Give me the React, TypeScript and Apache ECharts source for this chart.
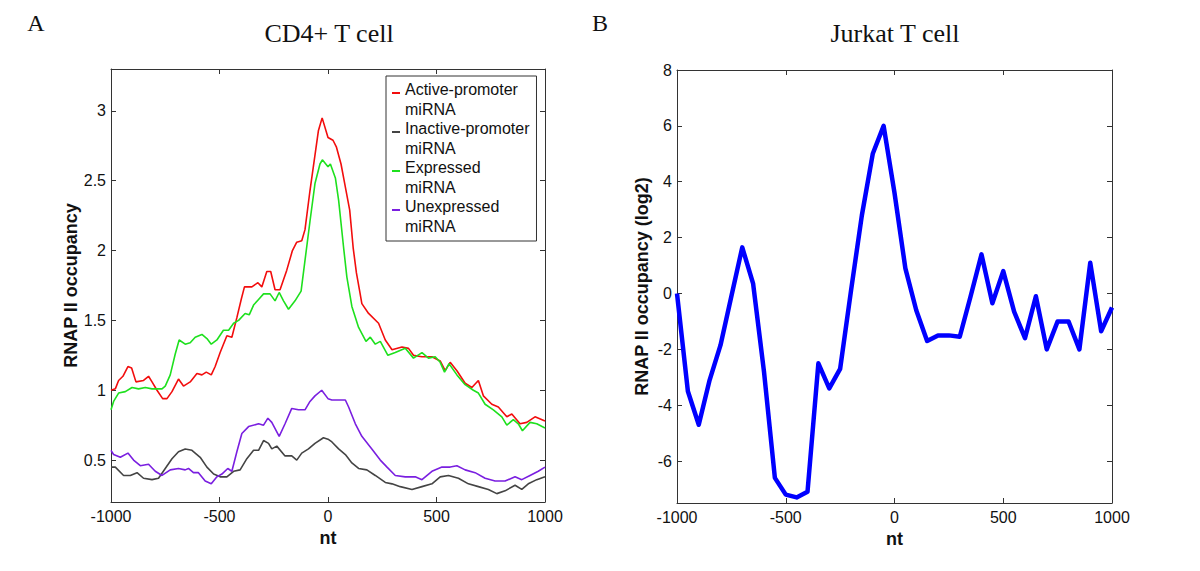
import React, { useEffect, useRef } from "react";
import * as echarts from "echarts";

// ---------- Panel A: CD4+ T cell ----------
const activeNt = [-1000, -980, -965, -945, -922, -905, -885, -850, -827, -811, -788, -762, -742, -719, -689, -666, -635, -604, -581, -561, -538, -520, -497, -466, -443, -420, -400, -385, -351, -323, -305, -282, -264, -244, -221, -190, -164, -144, -121, -106, -83, -44, -27, 0, 23, 39, 60, 77, 100, 116, 131, 146, 156, 187, 233, 264, 295, 341, 371, 394, 433, 479, 517, 540, 563, 594, 632, 663, 693, 716, 755, 785, 824, 847, 885, 916, 954, 1000];
const activeVal = [1.0, 1.01, 1.07, 1.1, 1.17, 1.16, 1.06, 1.07, 1.1, 1.06, 1.0, 0.94, 0.94, 0.99, 1.08, 1.03, 1.06, 1.12, 1.11, 1.13, 1.11, 1.17, 1.27, 1.39, 1.38, 1.52, 1.65, 1.74, 1.74, 1.77, 1.74, 1.85, 1.85, 1.72, 1.72, 1.86, 2.0, 2.06, 2.07, 2.15, 2.43, 2.86, 2.95, 2.81, 2.79, 2.74, 2.62, 2.48, 2.29, 2.02, 1.84, 1.71, 1.62, 1.55, 1.48, 1.36, 1.29, 1.31, 1.3, 1.25, 1.24, 1.24, 1.21, 1.14, 1.2, 1.14, 1.05, 1.02, 1.07, 0.96, 0.9, 0.88, 0.81, 0.83, 0.76, 0.77, 0.81, 0.78];

const inactiveNt = [-1000, -980, -942, -911, -880, -850, -811, -781, -750, -719, -689, -658, -627, -589, -558, -527, -497, -466, -435, -405, -374, -343, -320, -297, -274, -259, -236, -198, -167, -144, -121, -90, -60, -21, 0, 18, 49, 80, 110, 141, 179, 218, 264, 295, 333, 387, 433, 479, 517, 555, 601, 647, 693, 739, 778, 816, 862, 893, 923, 962, 1000];
const inactiveVal = [0.45, 0.45, 0.39, 0.39, 0.41, 0.37, 0.36, 0.37, 0.44, 0.51, 0.56, 0.58, 0.57, 0.52, 0.45, 0.4, 0.38, 0.38, 0.42, 0.43, 0.51, 0.57, 0.57, 0.64, 0.62, 0.58, 0.6, 0.53, 0.53, 0.5, 0.55, 0.58, 0.62, 0.66, 0.65, 0.63, 0.58, 0.54, 0.48, 0.44, 0.43, 0.39, 0.34, 0.33, 0.31, 0.29, 0.31, 0.33, 0.38, 0.39, 0.37, 0.33, 0.31, 0.29, 0.26, 0.28, 0.32, 0.29, 0.33, 0.36, 0.38];

const expressedNt = [-1000, -988, -965, -934, -903, -873, -842, -811, -765, -750, -727, -704, -686, -658, -635, -612, -581, -558, -538, -512, -482, -458, -435, -412, -382, -363, -343, -320, -297, -267, -244, -225, -205, -182, -152, -124, -106, -83, -60, -37, -26, 0, 11, 34, 49, 72, 87, 110, 141, 175, 195, 218, 241, 276, 310, 356, 394, 433, 463, 494, 517, 537, 558, 594, 632, 670, 693, 724, 762, 801, 824, 854, 877, 896, 931, 962, 1000];
const expressedVal = [0.86, 0.92, 0.98, 0.99, 1.02, 1.01, 1.02, 1.01, 1.01, 1.03, 1.11, 1.26, 1.36, 1.33, 1.34, 1.38, 1.4, 1.37, 1.33, 1.36, 1.43, 1.43, 1.48, 1.5, 1.55, 1.54, 1.61, 1.65, 1.69, 1.69, 1.64, 1.7, 1.64, 1.58, 1.64, 1.71, 1.93, 2.21, 2.48, 2.62, 2.65, 2.6, 2.62, 2.52, 2.36, 2.02, 1.81, 1.6, 1.45, 1.35, 1.38, 1.33, 1.35, 1.25, 1.27, 1.3, 1.23, 1.27, 1.23, 1.24, 1.2, 1.13, 1.19, 1.11, 1.04, 1.0, 0.98, 0.9, 0.86, 0.81, 0.75, 0.79, 0.76, 0.71, 0.77, 0.76, 0.73];

const unexpressedNt = [-1000, -988, -957, -922, -896, -865, -827, -796, -765, -727, -689, -658, -643, -620, -597, -566, -538, -512, -489, -462, -443, -420, -397, -366, -320, -297, -277, -259, -225, -198, -167, -136, -106, -83, -60, -29, 0, 18, 80, 95, 126, 156, 202, 241, 272, 310, 356, 402, 433, 479, 525, 563, 594, 632, 678, 724, 770, 816, 862, 893, 931, 969, 1000];
const unexpressedVal = [0.57, 0.54, 0.52, 0.55, 0.5, 0.46, 0.47, 0.42, 0.39, 0.43, 0.44, 0.43, 0.44, 0.41, 0.41, 0.35, 0.33, 0.38, 0.4, 0.44, 0.42, 0.56, 0.69, 0.74, 0.76, 0.75, 0.8, 0.77, 0.67, 0.76, 0.87, 0.86, 0.86, 0.92, 0.96, 1.0, 0.94, 0.93, 0.93, 0.88, 0.76, 0.67, 0.58, 0.5, 0.45, 0.39, 0.38, 0.38, 0.36, 0.42, 0.45, 0.45, 0.46, 0.43, 0.41, 0.37, 0.35, 0.35, 0.38, 0.36, 0.39, 0.42, 0.45];

const seriesNamesA = ["Active-promoter miRNA", "Inactive-promoter miRNA", "Expressed miRNA", "Unexpressed miRNA"];
const seriesColorsA = ["#f20d0d", "#444444", "#1ee01e", "#7a1fe0"];

// ---------- Panel B: Jurkat T cell ----------
const jurkatNt = [-1000, -950, -900, -850, -800, -750, -700, -650, -600, -550, -500, -450, -400, -350, -300, -250, -200, -150, -100, -50, 0, 50, 100, 150, 200, 250, 300, 350, 400, 450, 500, 550, 600, 650, 700, 750, 800, 850, 900, 950, 1000];
const jurkatVal = [0, -3.5, -4.7, -3.1, -1.85, -0.1, 1.65, 0.35, -2.8, -6.6, -7.2, -7.3, -7.1, -2.5, -3.4, -2.7, 0.1, 2.8, 5.0, 6.0, 3.6, 0.9, -0.6, -1.7, -1.5, -1.5, -1.55, -0.1, 1.4, -0.35, 0.8, -0.65, -1.6, -0.1, -2.0, -1.0, -1.0, -2.0, 1.1, -1.35, -0.5];

const titles = ["CD4+ T cell", "Jurkat T cell"];
const panelLetters = ["A", "B"];

const zip = (xs: number[], ys: number[]) => xs.map((x, i) => [x, ys[i]]);

const AXIS_COLOR = "#333333";
const SANS = "'Liberation Sans', Arial, sans-serif";
const SERIF = "'Liberation Serif', 'Times New Roman', serif";

const plainNumber = (v: number) => String(v);

function xAxes(gridIndex: number) {
  const common = {
    gridIndex,
    type: "value",
    min: -1000,
    max: 1000,
    interval: 500,
    splitLine: { show: false },
    axisLine: { show: true, onZero: false, lineStyle: { color: AXIS_COLOR, width: 1 } },
    axisTick: { show: true, inside: true, length: 5, lineStyle: { color: AXIS_COLOR } },
  };
  return [
    {
      ...common,
      position: "bottom",
      axisLabel: { show: true, fontSize: 16, color: "#111", fontFamily: SANS, margin: 6, formatter: plainNumber },
      name: "nt",
      nameLocation: "middle",
      nameGap: 25,
      nameTextStyle: { fontSize: 18, fontWeight: "bold", color: "#111", fontFamily: SANS },
    },
    { ...common, position: "top", axisLabel: { show: false } },
  ];
}

function yAxes(gridIndex: number, min: number, max: number, step: number, name: string, nameGap: number) {
  const common = {
    gridIndex,
    type: "value",
    min,
    max,
    minInterval: step,
    maxInterval: step,
    splitLine: { show: false },
    axisLine: { show: true, onZero: false, lineStyle: { color: AXIS_COLOR, width: 1 } },
    axisTick: { show: true, inside: true, length: 5, lineStyle: { color: AXIS_COLOR } },
  };
  return [
    {
      ...common,
      position: "left",
      axisLabel: {
        show: true,
        fontSize: 16,
        color: "#111",
        fontFamily: SANS,
        margin: 5,
        showMinLabel: false,
        showMaxLabel: max % step === 0,
        formatter: plainNumber,
      },
      name,
      nameLocation: "middle",
      nameGap,
      nameTextStyle: { fontSize: 18, fontWeight: "bold", color: "#111", fontFamily: SANS },
    },
    { ...common, position: "right", axisLabel: { show: false } },
  ];
}

export default function App() {
  const ref = useRef<HTMLDivElement>(null);

  useEffect(() => {
    if (!ref.current) return;
    const chart = echarts.init(ref.current, undefined, { renderer: "svg" });

    const dataA = [
      zip(activeNt, activeVal),
      zip(inactiveNt, inactiveVal),
      zip(expressedNt, expressedVal),
      zip(unexpressedNt, unexpressedVal),
    ];

    const textEl = (x: number, y: number, text: string, size: number) => ({
      type: "text",
      x,
      y,
      style: {
        text,
        font: `${size}px ${SERIF}`,
        fill: "#111",
        align: "center",
        verticalAlign: "middle",
        textAlign: "center",
        textVerticalAlign: "middle",
      },
    });

    const option: any = {
      animation: false,
      backgroundColor: "#ffffff",
      textStyle: { fontFamily: SANS },
      grid: [
        { left: 111, top: 69, width: 434, height: 433 },
        { left: 677, top: 70, width: 435, height: 433 },
      ],
      xAxis: [...xAxes(0), ...xAxes(1)],
      yAxis: [
        ...yAxes(0, 0.2, 3.3, 0.5, "RNAP II occupancy", 31),
        ...yAxes(1, -7.5, 8, 2, "RNAP II occupancy (log2)", 26),
      ],
      legend: {
        show: true,
        data: seriesNamesA,
        orient: "vertical",
        left: 386,
        top: 76,
        padding: [4, 7, 5, 6],
        itemGap: 0,
        itemWidth: 8,
        itemHeight: 39,
        icon: "path://M0,0 M0,12 L8,12 L8,14 L0,14 Z M0,39",
        itemStyle: { borderWidth: 0 },
        borderColor: "#333333",
        borderWidth: 1,
        backgroundColor: "#ffffff",
        formatter: (name: string) => name.replace(" ", "\n"),
        textStyle: { fontSize: 16, lineHeight: 19.5, color: "#111", fontFamily: SANS },
        selectedMode: false,
      },
      graphic: [
        textEl(329, 33, titles[0], 26),
        textEl(895, 33, titles[1], 26),
        textEl(36, 23, panelLetters[0], 24),
        textEl(600, 23, panelLetters[1], 24),
      ],
      series: [
        ...seriesNamesA.map((name, i) => ({
          type: "line",
          name,
          xAxisIndex: 0,
          yAxisIndex: 0,
          data: dataA[i],
          symbol: "none",
          showSymbol: false,
          lineStyle: { color: seriesColorsA[i], width: 1.6 },
          itemStyle: { color: seriesColorsA[i] },
          z: 2,
        })),
        {
          type: "line",
          name: "Jurkat T cell",
          xAxisIndex: 2,
          yAxisIndex: 2,
          data: zip(jurkatNt, jurkatVal),
          symbol: "none",
          showSymbol: false,
          lineStyle: { color: "#0000ff", width: 4.5, join: "round" },
          itemStyle: { color: "#0000ff" },
          z: 2,
        },
      ],
    };

    chart.setOption(option);
    return () => {
      chart.dispose();
    };
  }, []);

  return (
    <div
      ref={ref}
      style={{ position: "absolute", left: 0, top: 0, width: 1200, height: 571, background: "#fff" }}
    />
  );
}
